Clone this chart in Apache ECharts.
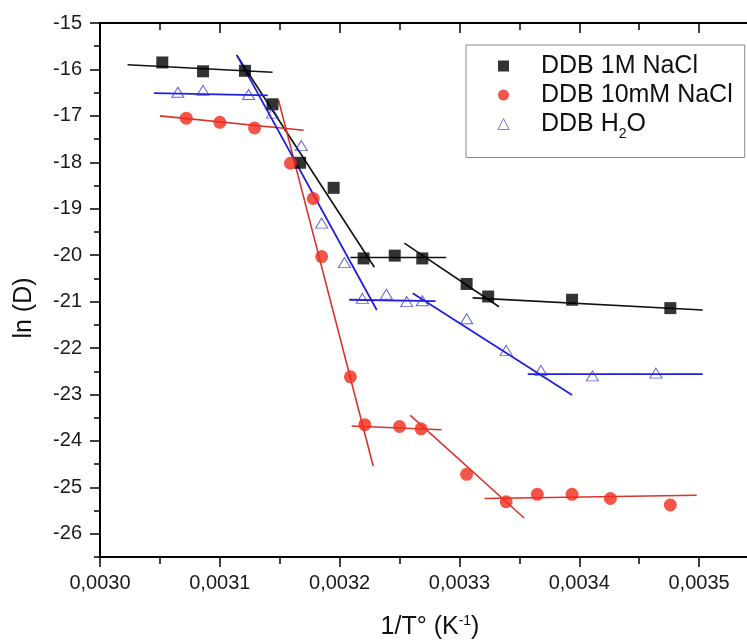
<!DOCTYPE html>
<html><head><meta charset="utf-8">
<script src="https://cdn.jsdelivr.net/npm/echarts@6/dist/echarts.min.js"></script>
<style>html,body{margin:0;padding:0;background:#fff}#c{width:747px;height:640px}</style>
</head><body><div id="c"></div>
<script>
const seriesNames = ['DDB 1M NaCl', 'DDB 10mM NaCl', 'DDB H2O'];
const x1M = [0.003052,0.003086,0.003121,0.003144,0.003167,0.003195,0.003220,0.003246,0.003269,0.003306,0.003324,0.003394,0.003476];
const y1M = [-15.85,-16.04,-16.03,-16.75,-18.01,-18.55,-20.07,-20.01,-20.07,-20.62,-20.89,-20.96,-21.14];
const x10mM = [0.003072,0.003100,0.003129,0.003159,0.003178,0.003185,0.003209,0.003221,0.003250,0.003268,0.003306,0.003339,0.003365,0.003394,0.003426,0.003476];
const y10mM = [-17.05,-17.14,-17.26,-18.02,-18.78,-20.03,-22.62,-23.65,-23.69,-23.74,-24.72,-25.31,-25.15,-25.15,-25.24,-25.38];
const xH2O = [0.003065,0.003086,0.003124,0.003144,0.003168,0.003185,0.003204,0.003219,0.003239,0.003256,0.003269,0.003306,0.003339,0.003368,0.003411,0.003464];
const yH2O = [-16.49,-16.45,-16.54,-16.94,-17.64,-19.31,-20.16,-20.93,-20.84,-21.00,-20.98,-21.37,-22.05,-22.48,-22.60,-22.54];
// fitted segments: [xStart, yStart, xEnd, yEnd]
const fit1M = [
  [0.003023,-15.90,0.003144,-16.06],
  [0.003114,-15.69,0.003229,-20.26],
  [0.003209,-20.05,0.003289,-20.05],
  [0.003254,-19.74,0.003333,-21.11],
  [0.003311,-20.92,0.003503,-21.18]
];
const fit10mM = [
  [0.003050,-17.00,0.003170,-17.31],
  [0.003149,-16.66,0.003228,-24.54],
  [0.003210,-23.68,0.003285,-23.76],
  [0.003259,-23.45,0.003354,-25.66],
  [0.003321,-25.24,0.003498,-25.17]
];
const fitH2O = [
  [0.003045,-16.51,0.003140,-16.56],
  [0.003115,-15.73,0.003231,-21.18],
  [0.003208,-20.96,0.003280,-20.99],
  [0.003261,-20.82,0.003394,-23.01],
  [0.003357,-22.56,0.003503,-22.56]
];
const xMajorTicks = [0.0030,0.0031,0.0032,0.0033,0.0034,0.0035];
const xMinorTicks = [0.00305,0.00315,0.00325,0.00335,0.00345];
const yMajorTicks = [-26,-25,-24,-23,-22,-21,-20,-19,-18,-17,-16,-15];
const yMinorTicks = [-26.5,-25.5,-24.5,-23.5,-22.5,-21.5,-20.5,-19.5,-18.5,-17.5,-16.5,-15.5];
const xTitle = '1/T° (K';
const xTitleSup = '-1';
const yTitle = 'ln (D)';

const FONT = '"Liberation Sans", Arial, sans-serif';
const XMIN = 0.0030, XMAX = 0.00354, YMIN = -26.5, YMAX = -15;

function zip(xs, ys) { return xs.map((x, i) => [x, ys[i]]); }
function fitSeries(segs, color, width) {
  return segs.map(s => ({
    type: 'line', name: 'fit', data: [[s[0], s[1]], [s[2], s[3]]],
    symbol: 'none', silent: true, z: 2, animation: false,
    lineStyle: { color: color, width: width }
  }));
}
const black = '#000000', red = '#f22a1c', redLine = '#d8322a', blue = '#1f1fe0', blueSym = '#3b3bd6';

function xAxisDef(pos, ticks, len, inside, showLine, showLabel) {
  return {
    type: 'value', position: pos, min: XMIN, max: XMAX,
    axisLine: { show: showLine, onZero: false, lineStyle: { color: '#000', width: 2 } },
    axisTick: { show: true, customValues: ticks, length: len, inside: inside, lineStyle: { color: '#000', width: 1.5 } },
    axisLabel: showLabel ? { customValues: ticks, fontSize: 20, fontFamily: FONT, color: '#1a1a1a', margin: 16,
      formatter: v => v.toFixed(4).replace('.', ',') } : { show: false },
    splitLine: { show: false }
  };
}
function yAxisDef(ticks, len, showLine, showLabel) {
  return {
    type: 'value', position: 'left', min: YMIN, max: YMAX,
    axisLine: { show: showLine, onZero: false, lineStyle: { color: '#000', width: 2 } },
    axisTick: { show: true, customValues: ticks, length: len, lineStyle: { color: '#000', width: 1.5 } },
    axisLabel: showLabel ? { customValues: ticks, fontSize: 20, fontFamily: FONT, color: '#1a1a1a', margin: 18,
      formatter: v => String(v) } : { show: false },
    splitLine: { show: false }
  };
}

const chart = echarts.init(document.getElementById('c'), null, { renderer: 'canvas' });
chart.setOption({
  animation: false,
  backgroundColor: '#ffffff',
  grid: { left: 100, top: 23, right: 0, bottom: 83, containLabel: false },
  xAxis: [
    xAxisDef('bottom', xMajorTicks, 10, false, true, true),
    xAxisDef('bottom', xMinorTicks, 7, false, false, false),
    xAxisDef('top', xMajorTicks, 10, true, true, false),
    xAxisDef('top', xMinorTicks, 7, true, false, false)
  ],
  yAxis: [
    yAxisDef(yMajorTicks, 10, true, true),
    yAxisDef(yMinorTicks, 6, false, false)
  ],
  legend: {
    data: [
      { name: seriesNames[0] },
      { name: seriesNames[1] },
      { name: seriesNames[2], itemStyle: { borderWidth: 1, borderColor: '#5a5ac8', color: 'rgba(255,255,255,0)' } }
    ],
    orient: 'vertical', left: 466, top: 45,
    padding: [8.5, 12, 16, 31.5],
    itemWidth: 11, itemHeight: 11, itemGap: 4,
    borderColor: '#8a8a8a', borderWidth: 1,
    selectedMode: false,
    textStyle: {
      fontSize: 25, fontFamily: FONT, color: '#111', lineHeight: 25,
      rich: {
        a: { fontSize: 25, fontFamily: FONT, color: '#111', lineHeight: 25, verticalAlign: 'middle' },
        p: { fontSize: 25, fontFamily: FONT, color: '#111', lineHeight: 25, verticalAlign: 'middle', padding: [0, 0, 0, 27] },
        s: { fontSize: 14, fontFamily: FONT, color: '#111', lineHeight: 14, verticalAlign: 'top', padding: [16, 0, 0, 0] }
      }
    },
    formatter: name => name === 'DDB H2O' ? '{p|DDB H}{s|2}{a|O}' : '{p|' + name + '}'
  },
  graphic: [
    { type: 'text', x: 24, y: 308, rotation: Math.PI / 2, silent: true,
      style: { text: yTitle, fontSize: 25, fontFamily: FONT, fill: '#111', align: 'center', verticalAlign: 'middle' } },
    { type: 'text', x: 430, y: 627, silent: true,
      style: { text: '{a|' + xTitle + '}{s|' + xTitleSup + '}{a|)}', align: 'center', verticalAlign: 'middle', fill: '#111',
        rich: {
          a: { fontSize: 25, fontFamily: FONT, fill: '#111', lineHeight: 25, verticalAlign: 'middle' },
          s: { fontSize: 14, fontFamily: FONT, fill: '#111', lineHeight: 14, verticalAlign: 'top' }
        } } }
  ],
  series: [
    ...fitSeries(fit1M, '#111111', 1.6),
    ...fitSeries(fit10mM, redLine, 1.6),
    ...fitSeries(fitH2O, blue, 1.8),
    { type: 'scatter', name: seriesNames[0], data: zip(x1M, y1M), symbol: 'rect', symbolSize: 12, z: 5,
      itemStyle: { color: black } },
    { type: 'scatter', name: seriesNames[1], data: zip(x10mM, y10mM), symbol: 'circle', symbolSize: 13, z: 5,
      itemStyle: { color: red } },
    { type: 'scatter', name: seriesNames[2], data: zip(xH2O, yH2O), symbol: 'triangle', symbolSize: [12, 10], z: 6,
      itemStyle: { color: 'rgba(255,255,255,0)', borderColor: blueSym, borderWidth: 1 } }
  ]
});
</script>
</body></html>
